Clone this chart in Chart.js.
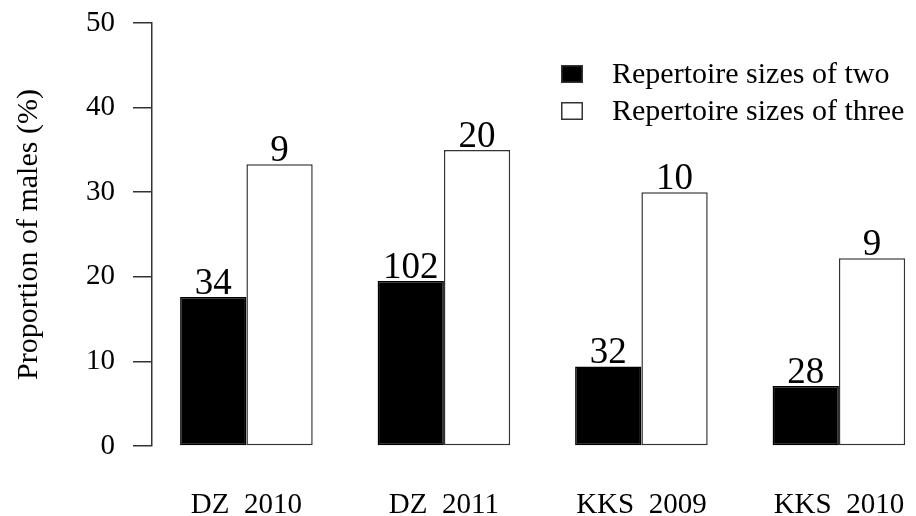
<!DOCTYPE html>
<html>
<head>
<meta charset="utf-8">
<script src="https://cdn.jsdelivr.net/npm/chart.js@4.4.1/dist/chart.umd.min.js"></script>
<style>
  html,body{margin:0;padding:0;background:#fff}
  canvas{display:block}
</style>
</head>
<body>
<canvas id="chart" width="916" height="516"></canvas>
<script>
const categories = ['DZ  2010', 'DZ  2011', 'KKS  2009', 'KKS  2010'];
const seriesNames = ['Repertoire sizes of two', 'Repertoire sizes of three'];
const sizeTwo = [17.6, 19.5, 9.4, 7.1];
const sizeThree = [33.3, 35.0, 30.0, 22.2];
// number of males above each bar
const countTwo = [34, 102, 32, 28];
const countThree = [9, 20, 10, 9];
const yTicks = [0, 10, 20, 30, 40, 50];

const SERIF = '"Liberation Serif", "DejaVu Serif", serif';
const INK = '#000';

function points(vals){
  return vals.map((v, i) => ({x: i, y: v}));
}

// counts written on top of the bars
const countLabels = {
  id: 'countLabels',
  afterDatasetsDraw(chart){
    const ctx = chart.ctx;
    ctx.save();
    ctx.font = '37px ' + SERIF;
    ctx.fillStyle = INK;
    ctx.textAlign = 'center';
    ctx.textBaseline = 'alphabetic';
    chart.data.datasets.forEach((ds, di) => {
      const meta = chart.getDatasetMeta(di);
      meta.data.forEach((bar, i) => {
        ctx.fillText(String(ds.counts[i]), bar.x, bar.y - 3);
      });
    });
    ctx.restore();
  }
};

// legend in the top right corner, boxes + text
const cornerLegend = {
  id: 'cornerLegend',
  afterDraw(chart){
    const ctx = chart.ctx;
    ctx.save();
    chart.data.datasets.forEach((ds, i) => {
      const cy = 74 + i * 37;
      ctx.fillStyle = ds.backgroundColor;
      ctx.fillRect(561, cy - 9, 22, 18);
      ctx.strokeStyle = '#333';
      ctx.lineWidth = 1.5;
      ctx.strokeRect(561.75, cy - 8.25, 20.5, 16.5);
      ctx.fillStyle = INK;
      ctx.font = '30px ' + SERIF;
      ctx.textAlign = 'left';
      ctx.textBaseline = 'middle';
      ctx.fillText(ds.label, 612, cy + 1);
    });
    ctx.restore();
  }
};

new Chart(document.getElementById('chart').getContext('2d'), {
  type: 'bar',
  data: {
    datasets: [
      {label: seriesNames[0], data: points(sizeTwo), counts: countTwo,
       backgroundColor: '#000', borderColor: '#000', borderWidth: 1.5, borderSkipped: false},
      {label: seriesNames[1], data: points(sizeThree), counts: countThree,
       backgroundColor: '#fff', borderColor: '#333', borderWidth: 1.5, borderSkipped: false}
    ]
  },
  options: {
    responsive: false,
    animation: false,
    devicePixelRatio: 1,
    layout: {padding: {top: 23, right: 6, left: 0, bottom: 0}},
    datasets: {bar: {barPercentage: 1, categoryPercentage: 0.6714}},
    plugins: {legend: {display: false}, tooltip: {enabled: false}},
    scales: {
      x: {
        type: 'linear',
        offset: false,
        min: -0.478,
        max: 3.36,
        afterBuildTicks: s => { s.ticks = categories.map((c, i) => ({value: i})); },
        afterFit: s => { s.height = 70; s.paddingLeft = 0; s.paddingRight = 0; },
        grid: {display: false, drawTicks: false},
        border: {display: false},
        ticks: {
          callback: v => categories[v],
          autoSkip: false, maxRotation: 0,
          padding: 42,
          color: INK,
          font: {family: SERIF, size: 29}
        }
      },
      y: {
        min: 0,
        max: 50,
        afterBuildTicks: s => { s.ticks = yTicks.map(v => ({value: v})); },
        afterFit: s => { s.width = 152; s.paddingTop = 0; s.paddingBottom = 0; },
        grid: {drawOnChartArea: false, drawTicks: true, tickLength: 19, color: '#333', lineWidth: 1.5},
        border: {display: true, color: '#333', width: 1.5},
        ticks: {padding: 18, color: INK, font: {family: SERIF, size: 29}},
        title: {
          display: true,
          text: 'Proportion of males (%)',
          color: INK,
          padding: {top: 11, bottom: 0},
          font: {family: SERIF, size: 30}
        }
      }
    }
  },
  plugins: [countLabels, cornerLegend]
});
</script>
</body>
</html>
